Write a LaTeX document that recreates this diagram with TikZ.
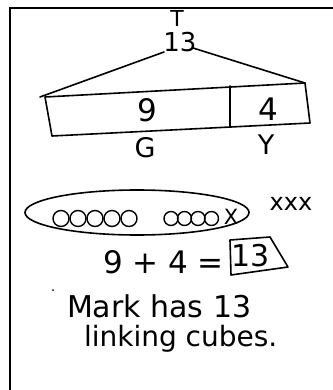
\documentclass[tikz,border=0pt]{standalone}
\usepackage{fontspec}
\setmainfont{DejaVu Sans}
\newcommand{\fs}[1]{\fontsize{#1}{#1}\selectfont}
\begin{document}
\begin{tikzpicture}[x=1pt,y=-1pt,
  ink/.style={line width=1.6pt,line join=round,line cap=round},
  txt/.style={inner sep=0pt,outer sep=0pt}]
\useasboundingbox (0,0) rectangle (332,390);
% frame
\draw[line width=2.5pt] (10,400) -- (10,8) -- (340,8);
% top labels
\node[txt,font=\fs{22}] (tlabel) at (177,18) {T};
\node[txt,font=\fs{26}] (total) at (180,42) {13};
\coordinate (l0) at (164,52);
\coordinate (r0) at (193,48);
% bar
\coordinate (tl) at (45,97);
\coordinate (tr) at (305,83);
\coordinate (br) at (310,123);
\coordinate (bl) at (52,136);
\coordinate (dt) at (230,86);
\coordinate (db) at (230,127);
\draw[ink] (l0) -- (40,97);
\draw[ink] (r0) -- (tr);
\draw[ink] (tl) -- (tr) -- (br) -- (bl) -- cycle;
\draw[ink] (dt) -- (db);
\node[txt,font=\fs{31}] (nine) at (147,110) {9};
\node[txt,font=\fs{31}] (four) at (268,109) {4};
\node[txt,font=\fs{27}] (g) at (145,148) {G};
\node[txt,font=\fs{27}] (y) at (266,145) {Y};
% ellipse with cubes
\draw[ink] (137,212.5) ellipse [x radius=112, y radius=22.5];
\foreach \cx in {61,78,95,112,129} \draw[line width=1.4pt] (\cx,218.5) circle [radius=8];
\foreach \cx in {171,184.5,198,211.5} \draw[line width=1.4pt] (\cx,218.5) circle [radius=7];
\node[txt,font=\fs{21}] (xin) at (231,217) {X};
\node[txt,font=\fs{24}] (xxx) at (291,204) {xxx};
% equation
\node[txt,font=\fs{31},anchor=base west] (eq) at (103,273) {9 + 4 =};
\draw[ink] (230,240) -- (270,237) -- (288,267) -- (231,275) -- cycle;
\node[txt,font=\fs{30}] (ans) at (251,256) {13};
% sentence
\fill (53,290) circle [radius=1];
\node[txt,font=\fs{30},anchor=base west] (mark) at (67,317) {Mark has 13};
\node[txt,font=\fs{28},anchor=base west] (link) at (84,346) {linking cubes.};
\end{tikzpicture}
\end{document}
